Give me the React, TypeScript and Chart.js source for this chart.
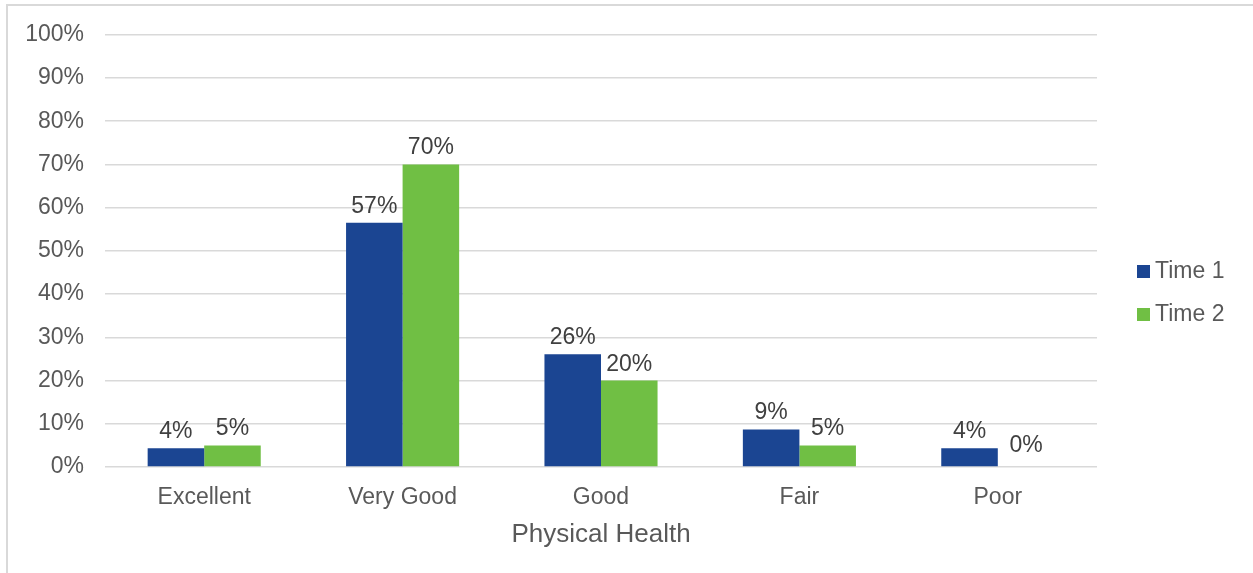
import React, { useEffect, useRef } from "react";
import { Chart, registerables } from "chart.js";

Chart.register(...registerables);

// Physical health ratings at two time points (percent of respondents)
const categories = ["Excellent", "Very Good", "Good", "Fair", "Poor"];
const seriesNames = ["Time 1", "Time 2"];
const time1 = [4.35, 56.52, 26.09, 8.7, 4.35];
const time2 = [5, 70, 20, 5, 0];
const seriesColors = ["#1b4592", "#70bf44"];
const axisTitle = "Physical Health";

const FONT = "'Liberation Sans', Arial, sans-serif";
const TICK_COLOR = "#595959";
const LABEL_COLOR = "#404040";
const GRID_COLOR = "#d9d9d9";

// Light frame along the top and left edges of the chart area
const framePlugin = {
  id: "frame",
  beforeDraw(chart: Chart) {
    const ctx = chart.ctx;
    ctx.save();
    ctx.fillStyle = "#ffffff";
    ctx.fillRect(0, 0, chart.width, chart.height);
    ctx.strokeStyle = GRID_COLOR;
    ctx.lineWidth = 2;
    ctx.beginPath();
    ctx.moveTo(7, chart.height);
    ctx.lineTo(7, 5);
    ctx.lineTo(chart.width, 5);
    ctx.stroke();
    ctx.restore();
  },
};

// Percent labels above each bar
const valueLabelPlugin = {
  id: "valueLabels",
  afterDatasetsDraw(chart: Chart) {
    const ctx = chart.ctx;
    ctx.save();
    ctx.font = `23px ${FONT}`;
    ctx.fillStyle = LABEL_COLOR;
    ctx.textAlign = "center";
    ctx.textBaseline = "alphabetic";
    chart.data.datasets.forEach((ds, di) => {
      const meta = chart.getDatasetMeta(di);
      meta.data.forEach((el: any, i: number) => {
        const v = ds.data[i] as number;
        const gap = v === 0 ? 15 : 10;
        ctx.fillText(`${Math.round(v)}%`, el.x, el.y - gap);
      });
    });
    ctx.restore();
  },
};

// Legend at the right side
const legendPlugin = {
  id: "sideLegend",
  afterDraw(chart: Chart) {
    const ctx = chart.ctx;
    ctx.save();
    ctx.font = `23px ${FONT}`;
    ctx.textAlign = "left";
    ctx.textBaseline = "middle";
    const x = 1137;
    const y0 = 265;
    const step = 43;
    chart.data.datasets.forEach((ds, i) => {
      const y = y0 + i * step;
      ctx.fillStyle = ds.backgroundColor as string;
      ctx.fillRect(x, y, 13, 13);
      ctx.fillStyle = TICK_COLOR;
      ctx.fillText(ds.label as string, x + 18, y + 7);
    });
    ctx.restore();
  },
};

export default function App() {
  const canvasRef = useRef<HTMLCanvasElement | null>(null);

  useEffect(() => {
    if (!canvasRef.current) return;
    const chart = new Chart(canvasRef.current, {
      type: "bar",
      data: {
        labels: categories,
        datasets: [
          {
            label: seriesNames[0],
            data: time1,
            backgroundColor: seriesColors[0],
            barPercentage: 1,
            categoryPercentage: 0.57,
          },
          {
            label: seriesNames[1],
            data: time2,
            backgroundColor: seriesColors[1],
            barPercentage: 1,
            categoryPercentage: 0.57,
          },
        ],
      },
      options: {
        responsive: false,
        animation: false,
        layout: { padding: { top: 34, right: 156, left: 0, bottom: 0 } },
        plugins: {
          legend: { display: false },
          tooltip: { enabled: false },
        },
        scales: {
          x: {
            grid: { display: false },
            border: { display: false },
            ticks: {
              font: { family: FONT, size: 23 },
              color: TICK_COLOR,
              padding: 9,
              maxRotation: 0,
            },
            title: {
              display: true,
              text: axisTitle,
              font: { family: FONT, size: 26 },
              color: TICK_COLOR,
              padding: { top: 23, bottom: 23 },
            },
            afterFit(scale: any) {
              scale.height = 106;
            },
          },
          y: {
            min: 0,
            max: 100,
            grid: { color: GRID_COLOR, lineWidth: 1.5, drawTicks: false },
            border: { display: false },
            ticks: {
              stepSize: 10,
              font: { family: FONT, size: 23 },
              color: TICK_COLOR,
              padding: 21,
              callback: (v: any) => `${v}%`,
            },
            afterFit(scale: any) {
              scale.width = 105;
            },
          },
        },
      },
      plugins: [framePlugin, valueLabelPlugin, legendPlugin],
    });
    return () => chart.destroy();
  }, []);

  return (
    <div style={{ position: "absolute", left: 0, top: 0, width: 1253, height: 573 }}>
      <canvas ref={canvasRef} width={1253} height={573} />
    </div>
  );
}
